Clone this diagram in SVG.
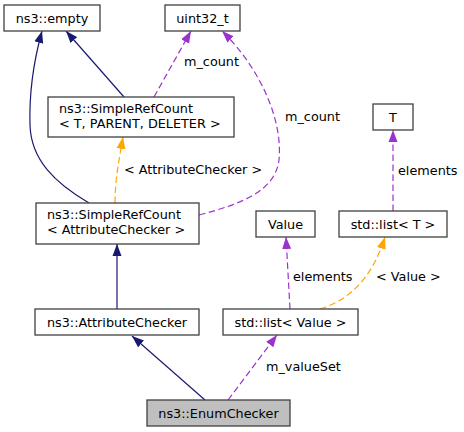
<svg xmlns="http://www.w3.org/2000/svg" width="464" height="432" viewBox="0 0 464 432">
<style>
.box{fill:#ffffff;stroke:#404040;stroke-width:1.3}
.root{fill:#bfbfbf;stroke:#404040;stroke-width:1.3}
text{font-family:"DejaVu Sans","Noto Sans",sans-serif;font-size:12.8px;fill:#000000}
.c{text-anchor:middle}
.inh{fill:none;stroke:#191970;stroke-width:1.2}
.use{fill:none;stroke:#9a32cd;stroke-width:1.2;stroke-dasharray:6.5,3.5}
.tpl{fill:none;stroke:#ffa500;stroke-width:1.2;stroke-dasharray:6.5,3.5}
</style>
<defs>
<marker id="aNavy" viewBox="0 0 12 10" refX="12" refY="5" markerWidth="12" markerHeight="10" markerUnits="userSpaceOnUse" orient="auto">
<path d="M0,0.5 L12,5 L0,9.5 z" fill="#191970"/>
</marker>
<marker id="aPurple" viewBox="0 0 12 10" refX="12" refY="5" markerWidth="12" markerHeight="10" markerUnits="userSpaceOnUse" orient="auto">
<path d="M0,0.5 L12,5 L0,9.5 z" fill="#9a32cd"/>
</marker>
<marker id="aOrange" viewBox="0 0 12 10" refX="12" refY="5" markerWidth="12" markerHeight="10" markerUnits="userSpaceOnUse" orient="auto">
<path d="M0,0.5 L12,5 L0,9.5 z" fill="#ffa500"/>
</marker>
</defs>
<rect width="464" height="432" fill="#ffffff"/>
<g id="connectors">
<path class="inh" d="M89,203 C55,183 31,160 30,125 C29,92 34,60 42,31" marker-end="url(#aNavy)"/>
<path class="inh" d="M124,97 L66,31" marker-end="url(#aNavy)"/>
<path class="use" d="M154,97 L191,31" marker-end="url(#aPurple)"/>
<text x="184" y="66">m_count</text>
<path class="use" d="M199,215 C245,203 275,190 279,160 C283,120 260,68 222,31" marker-end="url(#aPurple)"/>
<text x="285" y="121">m_count</text>
<path class="tpl" d="M115,203 C115,180 119,160 123,137" marker-end="url(#aOrange)"/>
<text x="124" y="173.5">&lt; AttributeChecker &gt;</text>
<path class="inh" d="M117,309 L117,244" marker-end="url(#aNavy)"/>
<path class="inh" d="M205,400 L132,336" marker-end="url(#aNavy)"/>
<path class="use" d="M228,400 L277,335" marker-end="url(#aPurple)"/>
<text x="266" y="371">m_valueSet</text>
<path class="use" d="M290,309 L286,237" marker-end="url(#aPurple)"/>
<text x="293" y="281">elements</text>
<path class="tpl" d="M320,309 C358,297 375,268 385,237" marker-end="url(#aOrange)"/>
<text x="376" y="281">&lt; Value &gt;</text>
<path class="use" d="M393,211 L393,130" marker-end="url(#aPurple)"/>
<text x="398" y="174.5">elements</text>
</g>
<g id="node-empty">
<rect class="box" x="4" y="5" width="96" height="26"/>
<text class="c" x="52" y="22.5">ns3::empty</text>
</g>
<g id="node-uint32">
<rect class="box" x="165" y="5" width="75" height="26"/>
<text class="c" x="202.5" y="22.5">uint32_t</text>
</g>
<g id="node-src-tpd">
<rect class="box" x="48" y="97" width="186" height="40"/>
<text x="59" y="112.5">ns3::SimpleRefCount</text>
<text x="59" y="127.5">&lt; T, PARENT, DELETER &gt;</text>
</g>
<g id="node-T">
<rect class="box" x="373" y="104" width="40" height="26"/>
<text class="c" x="393" y="121.5">T</text>
</g>
<g id="node-src-ac">
<rect class="box" x="36" y="203" width="163" height="41"/>
<text x="47" y="219">ns3::SimpleRefCount</text>
<text x="47" y="234">&lt; AttributeChecker &gt;</text>
</g>
<g id="node-value">
<rect class="box" x="256" y="211" width="59" height="26"/>
<text class="c" x="285.5" y="228.5">Value</text>
</g>
<g id="node-list-T">
<rect class="box" x="339" y="211" width="108" height="26"/>
<text class="c" x="393" y="228.5">std::list&lt; T &gt;</text>
</g>
<g id="node-attributechecker">
<rect class="box" x="35" y="309" width="164" height="26"/>
<text class="c" x="117" y="326.5">ns3::AttributeChecker</text>
</g>
<g id="node-list-value">
<rect class="box" x="223" y="309" width="135" height="26"/>
<text class="c" x="290.5" y="326.5">std::list&lt; Value &gt;</text>
</g>
<g id="node-enumchecker">
<rect class="root" x="147" y="400" width="143" height="26"/>
<text class="c" x="218.5" y="417.5">ns3::EnumChecker</text>
</g>
</svg>
